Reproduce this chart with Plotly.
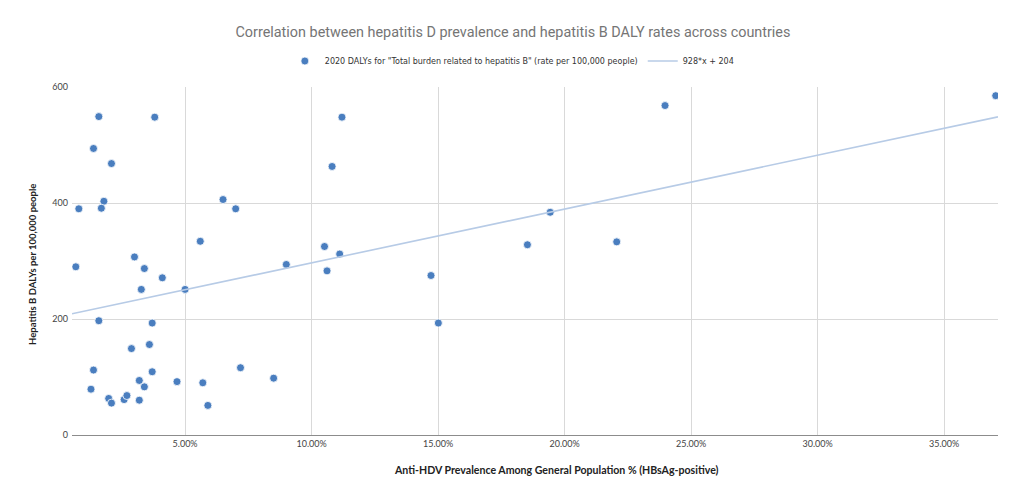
import plotly.graph_objects as go

# Anti-HDV prevalence (fraction) and hepatitis B DALY rate per 100,000
prevalence = [0.0159, 0.0380, 0.0138, 0.0209, 0.0179, 0.0080, 0.0169, 0.0650, 0.0700, 0.0560,
              0.0300, 0.0068, 0.0339, 0.0410, 0.0327, 0.0500, 0.0159, 0.0370, 0.0288, 0.0359,
              0.0138, 0.0370, 0.0719, 0.0128, 0.0319, 0.0339, 0.0468, 0.0570, 0.0198, 0.0209,
              0.0259, 0.0270, 0.0319, 0.0590, 0.0850, 0.0900, 0.1061, 0.1111, 0.1120, 0.1081,
              0.1051, 0.1472, 0.1501, 0.1853, 0.1943, 0.2206, 0.2397, 0.3704]
dalys = [549, 548, 494, 468, 403, 390, 391, 406, 390, 334,
         307, 290, 287, 271, 251, 251, 197, 193, 149, 156,
         112, 109, 116, 79, 94, 83, 92, 90, 63, 55,
         61, 68, 60, 51, 98, 294, 283, 312, 548, 463,
         325, 275, 193, 328, 384, 333, 568, 585]

trend_slope = 928
trend_intercept = 204
x_range = [0.0053, 0.3713]
y_ticks = [0, 200, 400, 600]
x_ticks = [0.05, 0.10, 0.15, 0.20, 0.25, 0.30, 0.35]

title_text = "Correlation between hepatitis D prevalence and hepatitis B DALY rates across countries"
series_name = '2020 DALYs for "Total burden related to hepatitis B" (rate per 100,000 people)'
trend_name = "928*x + 204"
x_title = "Anti-HDV Prevalence Among General Population % (HBsAg-positive)"
y_title = "Hepatitis B DALYs per 100,000 people"

trend_x = x_range
trend_y = [trend_slope * v + trend_intercept for v in trend_x]

W, H = 1016, 494
ML, MR, MT, MB = 64, 26, 79, 67
PW, PH = W - ML - MR, H - MT - MB

fig = go.Figure()
fig.add_trace(go.Scatter(
    x=prevalence, y=dalys, mode="markers", name=series_name,
    marker=dict(color="#4a7ebf", size=8, line=dict(color="white", width=0.8)),
))
fig.add_trace(go.Scatter(
    x=trend_x, y=trend_y, mode="lines", name=trend_name,
    line=dict(color="#b7cbe6", width=1.6),
))

fig.update_layout(
    width=W, height=H,
    margin=dict(l=ML, r=MR, t=MT, b=MB, autoexpand=False),
    paper_bgcolor="white", plot_bgcolor="white",
    title=dict(text=title_text, x=0.497, xanchor="center", y=1 - 24 / H, yanchor="middle",
               font=dict(family="Roboto, Liberation Sans, Arial", size=14.4, color="#757575")),
    legend=dict(orientation="h", x=0.475, xanchor="center", y=1 + (MT - 53) / PH, yanchor="middle",
                font=dict(family="DejaVu Sans", size=8, color="#333333"),
                traceorder="normal"),
    font=dict(family="Lato, Open Sans, sans-serif", size=9, color="#444444"),
    annotations=[
        dict(text="<b>" + x_title + "</b>", xref="paper", yref="paper",
             x=(548 - ML) / PW, y=-(462 - (MT + PH)) / PH, xanchor="center", yanchor="middle",
             showarrow=False, font=dict(size=10.6, color="#222222")),
        dict(text="<b>" + y_title + "</b>", xref="paper", yref="paper",
             x=(24 - ML) / PW, y=((MT + PH) - 257) / PH, xanchor="center", yanchor="middle",
             textangle=-90, showarrow=False, font=dict(size=9.5, color="#222222")),
    ],
)
fig.update_xaxes(
    range=x_range, tickvals=x_ticks, tickformat=".2%",
    showgrid=True, gridcolor="#d9d9d9", gridwidth=1,
    showline=True, linecolor="#8c8c8c", linewidth=1.2,
    zeroline=False, ticks="", tickfont=dict(size=9, color="#444444"),
)
fig.update_yaxes(
    range=[0, 600], tickvals=y_ticks,
    showgrid=True, gridcolor="#d9d9d9", gridwidth=1,
    showline=False, zeroline=False, ticks="", ticklabelstandoff=3,
    tickfont=dict(size=9, color="#444444"),
)

fig.write_html("out.html")
